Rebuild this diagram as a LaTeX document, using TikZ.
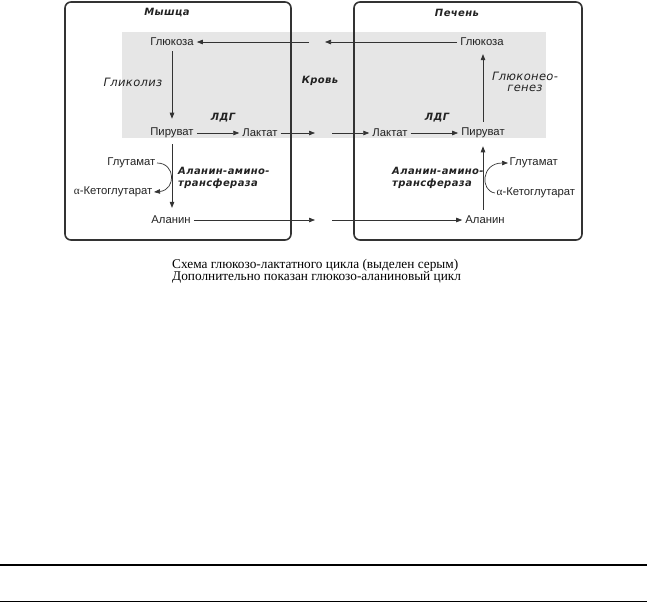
\documentclass[tikz,border=0pt]{standalone}
\usepackage{fontspec}
\setmainfont{Liberation Sans}
\newfontfamily\capfont{Liberation Serif}
\newfontfamily\lblfont[LetterSpace=4]{DejaVu Sans}
\newfontfamily\itfont[LetterSpace=3]{DejaVu Sans}
\usetikzlibrary{arrows.meta}
\definecolor{ink}{HTML}{222222}
\definecolor{boxc}{HTML}{333333}
\definecolor{blood}{HTML}{E6E6E6}
\tikzset{
  txt/.style={font=\fontsize{11.3}{13}\selectfont, text=ink, inner sep=3pt},
  bl/.style={font={\fontsize{10}{11.5}\lblfont\bfseries\itshape}, text=ink, inner sep=1pt},
  itl/.style={font={\fontsize{11.5}{11.5}\itfont\itshape}, text=ink, inner sep=1pt},
  arr/.style={draw=boxc, line width=0.7pt, -{Triangle[length=6pt,width=4.5pt]}},
  organ/.style={draw=boxc, line width=1.6pt, rounded corners=6pt},
  captxt/.style={font={\fontsize{13.3}{10}\capfont}, text=black, inner sep=0pt, anchor=base west},
  hrule/.style={draw=black, line width=1.5pt}
}
\begin{document}
\begin{tikzpicture}[x=1pt,y=-1pt]
\useasboundingbox (0,0) rectangle (647,603);
% blood region
\fill[blood] (122,32) rectangle (546,138);
% organ boxes
\draw[organ] (65,2) rectangle (291,240);
\draw[organ] (354,2) rectangle (582,240);
% titles
\node[bl] (muscle) at (167,13) {Мышца};
\node[bl] (liver) at (457,13) {Печень};
\node[bl] (blood) at (320,81) {Кровь};
% muscle nodes
\node[txt] (gL) at (172,42) {Глюкоза};
\node[txt] (pyrL) at (172,133) {Пируват};
\node[txt] (lacL) at (260,133) {Лактат};
\node[txt] (alaL) at (171,220) {Аланин};
\node[txt,anchor=east,inner sep=1.5pt] (gluL) at (157,163) {Глутамат};
\node[txt,anchor=east,inner sep=1.5pt] (kgL) at (154,192) {{\capfont α}-Кетоглутарат};
\node[itl] (glyc) at (133,82) {Гликолиз};
\node[bl] (ldgL) at (223,118) {ЛДГ};
\node[bl,anchor=west,align=left] (altL) at (177,178) {Аланин-амино-\\трансфераза};
% liver nodes
\node[txt] (gR) at (482,42) {Глюкоза};
\node[txt] (lacR) at (390,133) {Лактат};
\node[txt] (pyrR) at (483,133) {Пируват};
\node[txt] (alaR) at (485,220) {Аланин};
\node[txt,anchor=west,inner sep=1.5pt] (gluR) at (508,163) {Глутамат};
\node[txt,anchor=west,inner sep=1.5pt] (kgR) at (495,193) {{\capfont α}-Кетоглутарат};
\node[itl,align=center] (gng) at (525,82) {Глюконео-\\генез};
\node[bl] (ldgR) at (437,118) {ЛДГ};
\node[bl,anchor=west,align=left] (altR) at (391,178) {Аланин-амино-\\трансфераза};
% blood crossing points
\coordinate (gA) at (325,42);
\coordinate (gB) at (309,42);
\coordinate (lA) at (315,133);
\coordinate (lB) at (332,133);
\coordinate (aA) at (315,220);
\coordinate (aB) at (332,220);
% connectors
\draw[arr] (gR.west) -- (gA);
\draw[arr] (gB) -- (gL.east);
\draw[arr] (lacL.east) -- (lA);
\draw[arr] (lB) -- (lacR.west);
\draw[arr] (alaL.east) -- (aA);
\draw[arr] (aB) -- (alaR.west);
\draw[arr,shorten >=6pt,shorten <=2pt] (gL.south) -- (pyrL.north);
\draw[arr] (pyrL.east) -- (lacL.west);
\draw[arr,shorten >=5pt,shorten <=3pt] (pyrL.south) -- (alaL.north -| pyrL.south);
\draw[arr] (lacR.east) -- (pyrR.west);
\draw[arr,shorten >=5pt,shorten <=3pt] (alaR.north -| pyrR.south) -- (pyrR.south);
\draw[arr,shorten >=5pt,shorten <=3pt] (pyrR.north) -- (gR.south -| pyrR.north);
\draw[arr] (gluL.east) .. controls (176,163) and (176,190) .. (kgL.east);
\draw[arr] (kgR.west) .. controls (480,191) and (481,163) .. (gluR.west);
% caption
\node[captxt] (cap1) at (172,268.5) {Схема глюкозо-лактатного цикла (выделен серым)};
\node[captxt] (cap2) at (172,280.5) {Дополнительно показан глюкозо-аланиновый цикл};
% rules
\coordinate (r1a) at (0,565); \coordinate (r1b) at (647,565);
\coordinate (r2a) at (0,601.5); \coordinate (r2b) at (647,601.5);
\draw[hrule] (r1a) -- (r1b);
\draw[hrule] (r2a) -- (r2b);
\end{tikzpicture}
\end{document}
